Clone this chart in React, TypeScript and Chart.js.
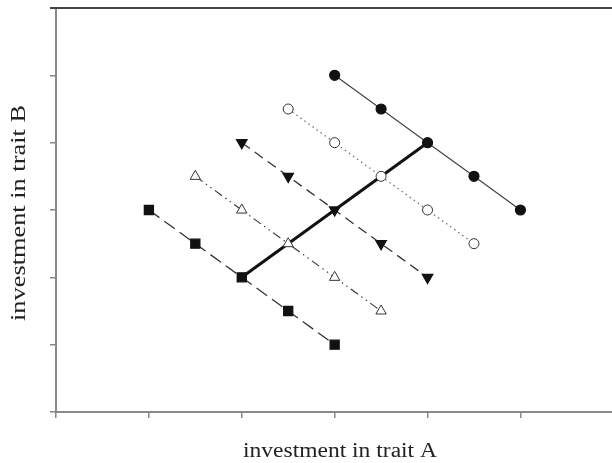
import React, { useEffect, useRef } from "react";
import { Chart, registerables } from "chart.js";

Chart.register(...registerables);

const xTicks = [0, 1, 2, 3, 4, 5, 6];
const yTicks = [0, 1, 2, 3, 4, 5, 6];
const xTitle = "investment in trait A";
const yTitle = "investment in trait B";

const filledCircleX = [3, 3.5, 4, 4.5, 5];
const filledCircleY = [5, 4.5, 4, 3.5, 3];
const openCircleX = [2.5, 3, 3.5, 4, 4.5];
const openCircleY = [4.5, 4, 3.5, 3, 2.5];
const filledTriX = [2, 2.5, 3, 3.5, 4];
const filledTriY = [4, 3.5, 3, 2.5, 2];
const openTriX = [1.5, 2, 2.5, 3, 3.5];
const openTriY = [3.5, 3, 2.5, 2, 1.5];
const squareX = [1, 1.5, 2, 2.5, 3];
const squareY = [3, 2.5, 2, 1.5, 1];
const thickX = [2, 4];
const thickY = [2, 4];

const pts = (xs: number[], ys: number[]) => xs.map((x, i) => ({ x, y: ys[i] }));

function stretchedText(ctx: CanvasRenderingContext2D, text: string, targetWidth: number) {
  const w = ctx.measureText(text).width;
  const s = targetWidth / w;
  ctx.save();
  ctx.scale(s, 1);
  ctx.fillText(text, 0, 0);
  ctx.restore();
}

const framePlugin = {
  id: "frame",
  afterDraw(chart: any) {
    const { ctx, chartArea } = chart;
    ctx.save();
    ctx.strokeStyle = "#444";
    ctx.lineWidth = 2;
    ctx.beginPath();
    ctx.moveTo(chartArea.left - 6, chartArea.top);
    ctx.lineTo(chart.width, chartArea.top);
    ctx.stroke();
    ctx.fillStyle = "#222";
    ctx.font = "20px 'Liberation Serif'";
    ctx.textAlign = "center";
    ctx.textBaseline = "alphabetic";
    ctx.save();
    ctx.translate(340, 457);
    stretchedText(ctx, xTitle, 194);
    ctx.restore();
    ctx.save();
    ctx.translate(25, 213);
    ctx.rotate(-Math.PI / 2);
    stretchedText(ctx, yTitle, 216);
    ctx.restore();
    ctx.restore();
  },
};

export default function App() {
  const ref = useRef<HTMLCanvasElement>(null);
  useEffect(() => {
    if (!ref.current) return;
    const common = { showLine: true, pointRadius: 5, pointHoverRadius: 5, borderColor: "#333", pointBorderColor: "#111", order: 1 };
    const chart = new Chart(ref.current, {
      type: "scatter",
      data: {
        datasets: [
          { ...common, data: pts(filledCircleX, filledCircleY), borderWidth: 1.2, pointStyle: "circle", pointBackgroundColor: "#111", borderColor: "#444" },
          { ...common, data: pts(openCircleX, openCircleY), borderWidth: 1.2, borderDash: [1.5, 3.5], borderColor: "#666", pointStyle: "circle", pointBackgroundColor: "#fff", pointBorderColor: "#333", pointBorderWidth: 1 },
          { ...common, data: pts(filledTriX, filledTriY), borderWidth: 1.3, borderDash: [10, 6], pointStyle: "triangle", rotation: 180, pointRadius: 6, pointHoverRadius: 6, pointBackgroundColor: "#111" },
          { ...common, data: pts(openTriX, openTriY), borderWidth: 1.1, borderDash: [9, 4, 1.5, 4, 1.5, 4], pointStyle: "triangle", pointRadius: 6, pointHoverRadius: 6, pointBackgroundColor: "#fff", pointBorderColor: "#333", pointBorderWidth: 1 },
          { ...common, data: pts(squareX, squareY), borderWidth: 1.3, borderDash: [13, 6], pointStyle: "rect", pointRadius: 6.4, pointHoverRadius: 6.4, pointBackgroundColor: "#111" },
          { data: pts(thickX, thickY), showLine: true, borderWidth: 3, borderColor: "#111", pointRadius: 0, order: 5 },
        ],
      },
      options: {
        animation: false,
        responsive: true,
        maintainAspectRatio: false,
        layout: { padding: { left: 50, right: 0, top: 8, bottom: 45 } },
        plugins: { legend: { display: false }, tooltip: { enabled: false } },
        scales: {
          x: {
            type: "linear",
            min: xTicks[0],
            max: xTicks[xTicks.length - 1],
            afterBuildTicks: (s: any) => { s.ticks = xTicks.map((v) => ({ value: v })); },
            ticks: { display: false },
            grid: { drawOnChartArea: false, drawTicks: true, tickLength: 6, color: "#888", lineWidth: 1.5 },
            border: { display: true, color: "#888", width: 2 },
          },
          y: {
            type: "linear",
            min: yTicks[0],
            max: yTicks[yTicks.length - 1],
            afterBuildTicks: (s: any) => { s.ticks = yTicks.map((v) => ({ value: v })); },
            ticks: { display: false },
            grid: { drawOnChartArea: false, drawTicks: true, tickLength: 6, color: "#888", lineWidth: 1.5 },
            border: { display: true, color: "#888", width: 2 },
          },
        },
      },
      plugins: [framePlugin],
    });
    return () => chart.destroy();
  }, []);
  return (
    <div style={{ position: "fixed", left: 0, top: 0, width: 612, height: 463, overflow: "hidden", background: "#fff" }}>
      <div style={{ position: "relative", width: 621, height: 463 }}>
        <canvas ref={ref} />
      </div>
    </div>
  );
}
